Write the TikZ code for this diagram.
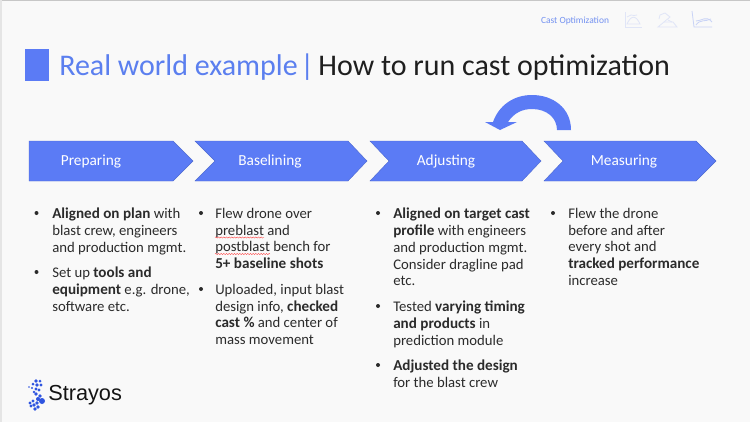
\documentclass[tikz,border=0pt]{standalone}
\usepackage{fontspec}
\setmainfont{Carlito}
\newfontfamily\logofont{Liberation Sans}
\usetikzlibrary{decorations.pathmorphing}
\definecolor{brandblue}{HTML}{5B7BF5}
\definecolor{titleblue}{HTML}{5B7FEF}
\definecolor{slidebg}{HTML}{F9F9F9}
\definecolor{bodyink}{HTML}{2B2B2B}
\definecolor{iconline}{HTML}{E0E5F7}
\definecolor{iconlinedark}{HTML}{C9D3F6}
\definecolor{logoblue}{HTML}{2F55E0}
% emphasised phrases run slightly larger than the body copy
\newcommand{\keyphrase}[1]{{\fontsize{11.35}{12.55}\selectfont\textbf{#1}}}
\tikzset{
  chevronfill/.style={fill=brandblue,draw=brandblue!85!black,line width=0.3pt},
  steplabel/.style={text=white,font=\fontsize{11.5}{13}\selectfont,inner sep=0pt},
  bodytext/.style={anchor=north west,inner sep=0pt,align=left,text=bodyink,font=\fontsize{11.05}{12.55}\selectfont},
  bulletdot/.style={circle,fill=bodyink,inner sep=0pt,minimum size=3pt},
  spellmark/.style={draw=red!70!white,line width=0.3pt,decorate,decoration={snake,amplitude=0.45pt,segment length=2pt}},
  iconstroke/.style={draw=iconline,line width=0.6pt},
  logodot/.style={circle,fill=logoblue,inner sep=0pt}
}
\begin{document}
\begin{tikzpicture}[x=0.75pt,y=-0.75pt]
\useasboundingbox (0,0) rectangle (750,422);
\fill[slidebg] (0,0) rectangle (750,422);
% slide frame
\fill[black!22] (0,0) rectangle (750,1);
\fill[black!10] (0,0) rectangle (1.5,422);

% header breadcrumb
\node[text=titleblue!85!white,font=\fontsize{7.1}{8}\selectfont,inner sep=0pt] (crumb) at (575,20.5) {Cast Optimization};
\draw[iconstroke] (625,12) -- (625,27) -- (642,27);
\draw[iconstroke] (627,24) .. controls (631,15) and (636,15) .. (640,24) -- cycle;
\draw[iconstroke] (627,17) -- (631,15) -- (634,15.5) -- (637,15);
% excavator on its spoil heap
\draw[iconstroke] (658,27) -- (677,27) -- (673,22) -- (664,22) -- cycle;
\draw[iconstroke] (664,22) -- (670,17) -- (665,13) -- (660,15) -- (659,19);
\draw[iconstroke] (668,20) -- (672,22);
% performance chart
\draw[iconstroke,draw=iconlinedark] (692,11) -- (694,27) -- (712,27);
\draw[iconstroke,draw=iconlinedark] (696,25) .. controls (700,19) and (705,22) .. (711,19);
\draw[iconstroke,draw=iconlinedark] (696,21) .. controls (702,21) and (706,15) .. (712,22);

% title
\fill[brandblue] (24.5,48.5) rectangle (48.5,80.5);
\node[anchor=base west,inner sep=0pt,font=\fontsize{22.5}{26}\selectfont] (title) at (59,75)
  {\textcolor{titleblue}{Real world example\hspace{-3pt} |}\hspace{-2pt} \textcolor{black!88}{How to run cast optimization}};

% process chevrons
\path[chevronfill] (29,141) -- (173,141) -- (193,161) -- (173,181) -- (29,181) -- cycle;
\path[chevronfill] (195,141) -- (348,141) -- (367,161) -- (348,181) -- (195,181) -- (215,161) -- cycle;
\path[chevronfill] (370,141) -- (522,141) -- (541,161) -- (522,181) -- (370,181) -- (389,161) -- cycle;
\path[chevronfill] (544,141) -- (696,141) -- (716,161) -- (696,181) -- (544,181) -- (563,161) -- cycle;
\node[steplabel] (preparing) at (91,161.5) {Preparing};
\node[steplabel] (baselining) at (270,161.5) {Baselining};
\node[steplabel] (adjusting) at (446,161.5) {Adjusting};
\node[steplabel] (measuring) at (624,161.5) {Measuring};

% curved return arrow above the last two steps
\fill[brandblue] (571,130) .. controls (571,108) and (553,95) .. (532,95)
  .. controls (514,95) and (499,105) .. (493,122) -- (485,122) -- (500,130) -- (517,122) -- (508,122)
  .. controls (514,113) and (522,109) .. (532,109) .. controls (547,109) and (557,118) .. (557,130) -- cycle;

% column 1
\node[bulletdot] (b1) at (36.5,213) {};
\node[bodytext] (t1) at (52,208) {\keyphrase{Aligned on plan} with\\blast crew, engineers\\and production mgmt.};
\node[bulletdot] (b2) at (36.5,272) {};
\node[bodytext] (t2) at (52,267) {Set up \keyphrase{tools and}\\\keyphrase{equipment} e.g. drone,\\software etc.};

% column 2
\node[bulletdot] (b3) at (201,213) {};
\node[bodytext] (t3) at (215,208) {Flew drone over\\preblast and\\postblast bench for\\\keyphrase{5+ baseline shots}};
\node[bulletdot] (b4) at (201,289) {};
\node[bodytext] (t4) at (215,284) {Uploaded, input blast\\design info, \keyphrase{checked}\\\keyphrase{cast \%} and center of\\mass movement};
\draw[spellmark] (215,237.5) -- (264,237.5);
\draw[spellmark] (215,254) -- (270,254);

% column 3
\node[bulletdot] (b5) at (378,213) {};
\node[bodytext] (t5) at (393,208) {\keyphrase{Aligned on target cast}\\\keyphrase{profile} with engineers\\and production mgmt.\\Consider dragline pad\\etc.};
\node[bulletdot] (b6) at (378,306) {};
\node[bodytext] (t6) at (393,301) {Tested \keyphrase{varying timing}\\\keyphrase{and products} in\\prediction module};
\node[bulletdot] (b7) at (378,365) {};
\node[bodytext] (t7) at (393,360) {\keyphrase{Adjusted the design}\\for the blast crew};

% column 4
\node[bulletdot] (b8) at (553,213) {};
\node[bodytext] (t8) at (568,208) {Flew the drone\\before and after\\every shot and\\\keyphrase{tracked performance}\\increase};

% logo
\foreach \px/\py/\r in {36/381/1.8,40/381/1.5,33/384/1.5,37/385/1.8,41/385/1.7,29/387/0.9,32/388/1.2,36/389/1.6,39/390/1.7,34/392/1.3,36/394/1.8,40/396/1.9,38/399/2,42/401/3,33/401/1.6,37/403/1.9,30/403/1.6,34/405/1.9,38/407/1.9,31/406/1.6,35/409/1.9}
  \node[logodot,minimum size=2*\r*0.75pt] at (\px,\py) {};
\node[anchor=base west,inner sep=0pt,text=black!92,font=\logofont\fontsize{16.3}{20}\selectfont] (wordmark) at (48,400) {Strayos};
\end{tikzpicture}
\end{document}
